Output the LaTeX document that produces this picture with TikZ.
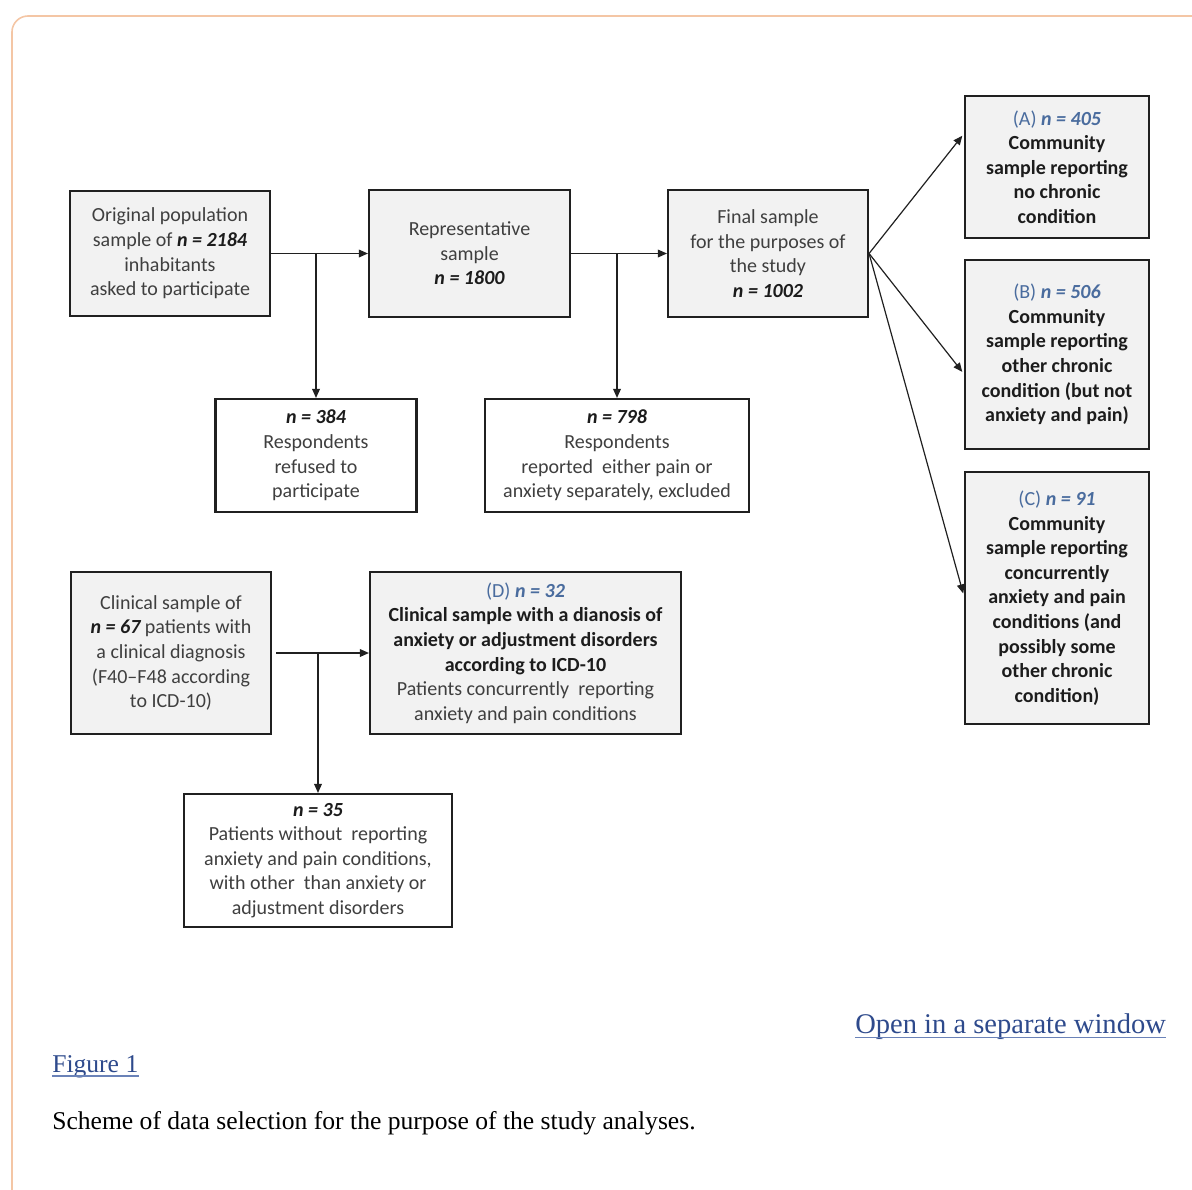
\documentclass[tikz,border=0pt]{standalone}
\usepackage{fontspec}
\setmainfont{Carlito}
\newfontfamily\capfont{Liberation Serif}
\usetikzlibrary{arrows.meta,calc}
\definecolor{boxgray}{HTML}{F2F2F2}
\definecolor{txtgray}{HTML}{3F3F3F}
\definecolor{txtdark}{HTML}{1C1C1C}
\definecolor{nblue}{HTML}{4A6C9E}
\definecolor{linkblue}{HTML}{2E4A8C}
\definecolor{ulblue}{HTML}{6A82B8}
\definecolor{framecol}{HTML}{F4C6A5}
\definecolor{linecol}{HTML}{202020}
\newcommand{\nbi}[1]{{\color{txtdark}\bfseries\itshape #1}}
\newcommand{\bl}[1]{{\color{txtdark}\bfseries #1}}
\newcommand{\lab}[2]{{\color{nblue}(#1) \bfseries\itshape #2}}
\tikzset{
  x=0.75pt, y=-0.75pt,
  box/.style={draw=linecol, line width=1.6pt, fill=boxgray, align=center, inner sep=0pt,
    text=txtgray, font=\fontsize{15pt}{18.45pt}\selectfont},
  wbox/.style={box, fill=white},
  arr/.style={draw=linecol, line width=0.9pt, -{Triangle[length=6.8pt,width=5.8pt]}},
  captext/.style={inner sep=0pt, font=\capfont\fontsize{19.2pt}{23pt}\selectfont},
  linktext/.style={captext, text=linkblue},
  linkul/.style={draw=ulblue, line width=1.1pt}
}
\begin{document}
\begin{tikzpicture}
\useasboundingbox (0,0) rectangle (1192,1189);
% outer frame
\draw[framecol, line width=1.2pt, rounded corners=12pt] (12,1200) -- (12,16) -- (1200,16);

% top row
\node[box, minimum width=150pt, minimum height=93.75pt] (orig) at (170,253.5)
  {Original population\\ sample of \nbi{n = 2184}\\ inhabitants\\ asked to participate};
\node[box, minimum width=150.75pt, minimum height=95.25pt] (repr) at (469.5,253.5)
  {Representative\\ sample\\ \nbi{n = 1800}};
\node[box, minimum width=150pt, minimum height=95.25pt] (final) at (768,253.5)
  {Final sample\\ for the purposes of\\ the study\\ \nbi{n = 1002}};

% right column
\node[box, minimum width=138pt, minimum height=106.5pt] (A) at (1057,167)
  {\lab{A}{n = 405}\\ \bl{Community}\\ \bl{sample reporting}\\ \bl{no chronic}\\ \bl{condition}};
\node[box, minimum width=138pt, minimum height=141.75pt] (B) at (1057,354.5)
  {\lab{B}{n = 506}\\ \bl{Community}\\ \bl{sample reporting}\\ \bl{other chronic}\\ \bl{condition (but not}\\ \bl{anxiety and pain)}};
\node[box, minimum width=138pt, minimum height=189pt] (C) at (1057,598)
  {\lab{C}{n = 91}\\ \bl{Community}\\ \bl{sample reporting}\\ \bl{concurrently}\\ \bl{anxiety and pain}\\ \bl{conditions (and}\\ \bl{possibly some}\\ \bl{other chronic}\\ \bl{condition)}};

% excluded boxes
\node[wbox, minimum width=150.75pt, minimum height=84.75pt] (r384) at (316,455.5)
  {\nbi{n = 384}\\ Respondents\\ refused to\\ participate};
\node[wbox, minimum width=198pt, minimum height=84.75pt] (r798) at (617,455.5)
  {\nbi{n = 798}\\ Respondents\\ reported\ \ either pain or\\ anxiety separately, excluded};

% clinical
\node[box, minimum width=150pt, minimum height=121.5pt] (clin) at (171,653)
  {Clinical sample of\\ \nbi{n = 67} patients with\\ a clinical diagnosis\\ (F40--F48 according\\ to ICD-10)};
\node[box, minimum width=233.25pt, minimum height=121.5pt] (D) at (525.5,653)
  {\lab{D}{n = 32}\\ \bl{Clinical sample with a dianosis of}\\ \bl{anxiety or adjustment disorders}\\ \bl{according to ICD-10}\\ Patients concurrently\ \ reporting\\ anxiety and pain conditions};
\node[wbox, minimum width=201pt, minimum height=99.75pt] (n35) at (318,860.5)
  {\nbi{n = 35}\\ Patients without\ \ reporting\\ anxiety and pain conditions,\\ with other\ \ than anxiety or\\ adjustment disorders};

% connectors
\draw[arr] (orig.east) -- (repr.west);
\draw[arr] (r384.north |- orig.east) -- (r384.north);
\draw[arr] (repr.east) -- (final.west);
\draw[arr] (r798.north |- repr.east) -- (r798.north);
\draw[arr, shorten >=2pt] (final.east) -- ([yshift=25pt]A.west);
\draw[arr, shorten >=2pt] (final.east) -- ([yshift=-14.6pt]B.west);
\draw[arr, shorten >=2pt] (final.east) -- ([yshift=1.5pt]C.west);
\draw[arr, shorten <=3pt] (clin.east) -- (D.west);
\draw[arr] (n35.north |- D.west) -- (n35.north);

% caption area
\node[linktext, anchor=base west, font=\capfont\fontsize{21.4pt}{25pt}\selectfont] (open) at (855,1033) {Open in a separate window};
\draw[linkul] ([yshift=-3.2pt]open.base west) -- ([yshift=-3.2pt]open.base east);
\node[linktext, anchor=base west] (fig) at (52,1072) {Figure 1};
\draw[linkul] ([yshift=-3pt]fig.base west) -- ([yshift=-3pt]fig.base east);
\node[captext, anchor=base west] (scheme) at (52,1129) {Scheme of data selection for the purpose of the study analyses.};
\end{tikzpicture}
\end{document}
